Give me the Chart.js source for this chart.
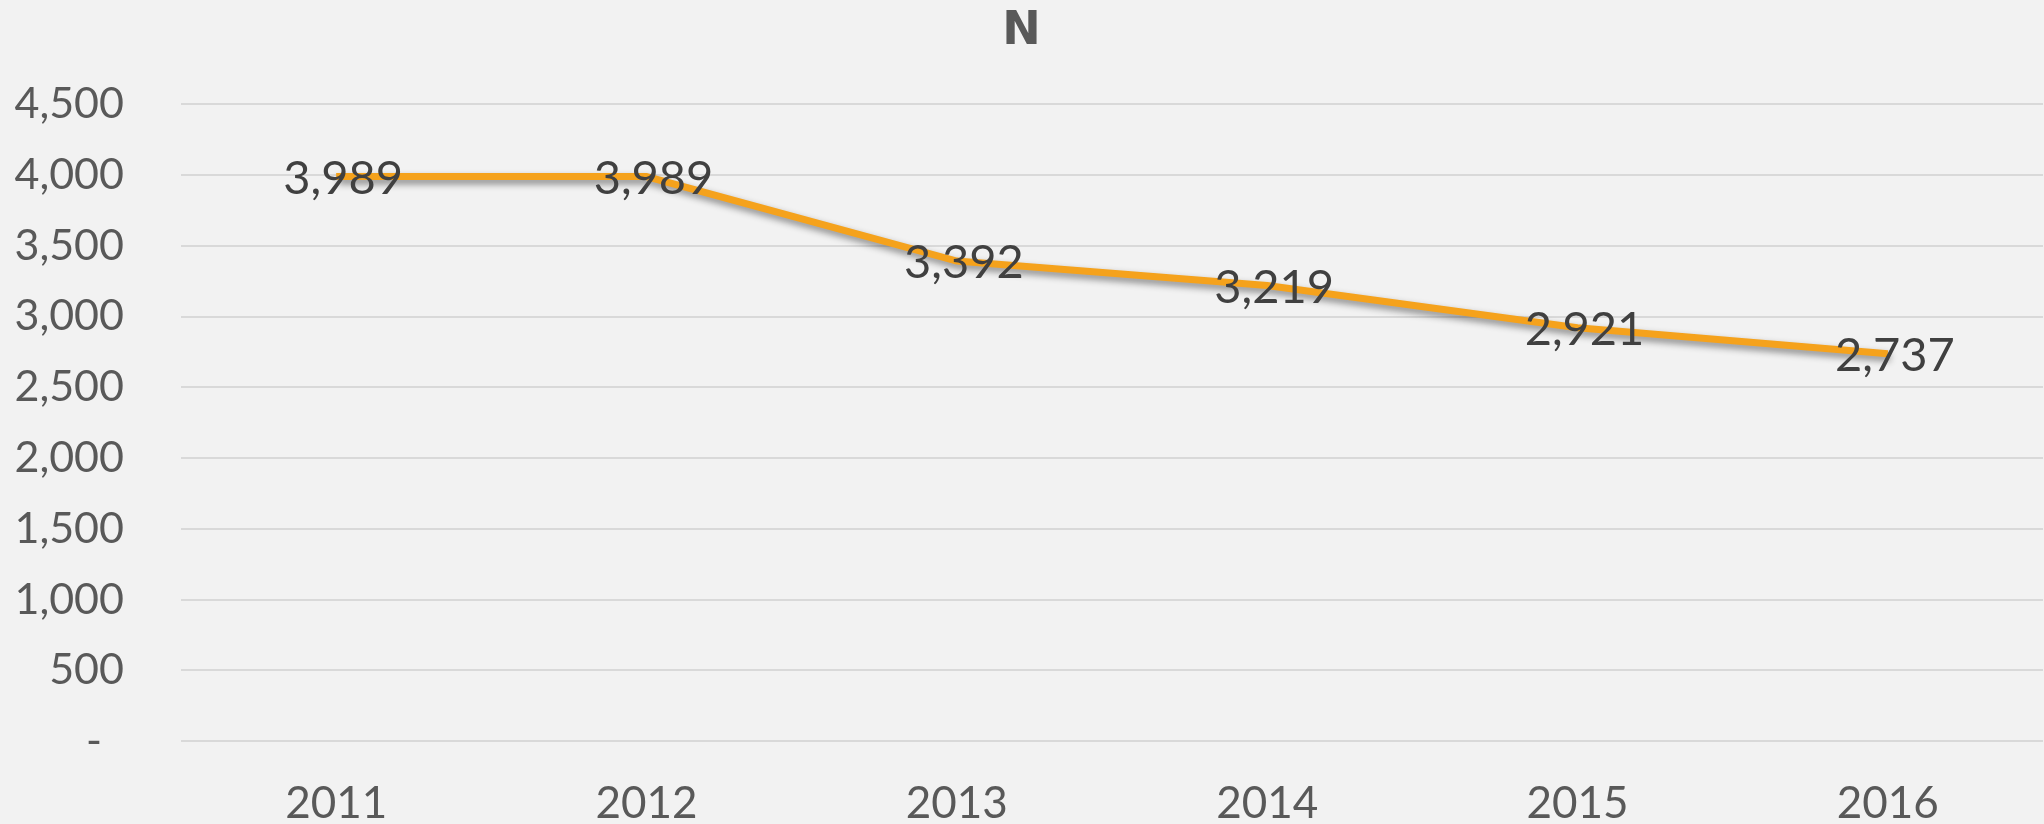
<!DOCTYPE html>
<html>
<head>
<meta charset="utf-8">
<script src="https://cdn.jsdelivr.net/npm/chart.js@4.4.1/dist/chart.umd.min.js"></script>
<style>
  html, body { margin: 0; padding: 0; background: #F2F2F2; }
  canvas { display: block; }
</style>
</head>
<body>
<canvas id="myChart" width="2044" height="824"></canvas>
<script>
const ctx = document.querySelector("#myChart").getContext("2d");

const labels = ["2011", "2012", "2013", "2014", "2015", "2016"];
const values = [3989, 3989, 3392, 3219, 2921, 2737];
const yTicks = [0, 500, 1000, 1500, 2000, 2500, 3000, 3500, 4000, 4500];

const fmt = (v) => v.toLocaleString("en-US");

// soft shadow under the line, like the original
const lineShadow = {
    id: "lineShadow",
    beforeDatasetDraw(chart) {
        chart.ctx.save();
        chart.ctx.shadowColor = "rgba(0, 0, 0, 0.45)";
        chart.ctx.shadowBlur = 7;
        chart.ctx.shadowOffsetX = 2;
        chart.ctx.shadowOffsetY = 4;
    },
    afterDatasetDraw(chart) {
        chart.ctx.restore();
    }
};

// value labels centred on each point
const valueLabels = {
    id: "valueLabels",
    afterDatasetsDraw(chart) {
        const c = chart.ctx;
        const meta = chart.getDatasetMeta(0);
        c.save();
        c.font = "47px Lato";
        c.fillStyle = "#404040";
        c.textAlign = "center";
        c.textBaseline = "middle";
        meta.data.forEach((pt, i) => {
            c.fillText(fmt(values[i]), pt.x + 7, pt.y + 2);
        });
        c.restore();
    }
};

const data = {
    labels,
    datasets: [{
        data: values,
        label: "N",
        borderColor: "#F5A21C",
        borderWidth: 7,
        pointRadius: 0,
        pointHoverRadius: 0,
        tension: 0,
        fill: false,
    }]
};

const config = {
    type: "line",
    data: data,
    plugins: [lineShadow, valueLabels],
    options: {
        responsive: false,
        animation: false,
        layout: { padding: { left: 0, right: 1, top: 0, bottom: 0 } },
        plugins: {
            legend: { display: false },
            tooltip: { enabled: false },
            title: {
                display: true,
                text: "N",
                color: "#595959",
                font: { family: "DejaVu Sans", size: 46, weight: "bold", lineHeight: 1.2 },
                padding: { top: 4, bottom: 45 }
            }
        },
        scales: {
            x: {
                offset: true,
                grid: { display: false },
                border: { display: false },
                ticks: {
                    color: "#595959",
                    font: { family: "Lato", size: 44 },
                    padding: 28,
                    maxRotation: 0
                },
                afterFit: (scale) => { scale.height = 81; }
            },
            y: {
                min: 0,
                max: 4500,
                border: { display: false },
                grid: { color: "#D9D9D9", lineWidth: 2, drawTicks: false },
                afterBuildTicks: (scale) => {
                    scale.ticks = yTicks.map(v => ({ value: v }));
                },
                ticks: {
                    color: "#595959",
                    font: { family: "Lato", size: 43 },
                    padding: 57,
                    callback: function (value) {
                        return value === 0 ? "-  " : fmt(value);
                    }
                },
                afterFit: (scale) => { scale.width = 181; }
            }
        }
    }
};

const myChart = new Chart(ctx, config);
</script>
</body>
</html>
